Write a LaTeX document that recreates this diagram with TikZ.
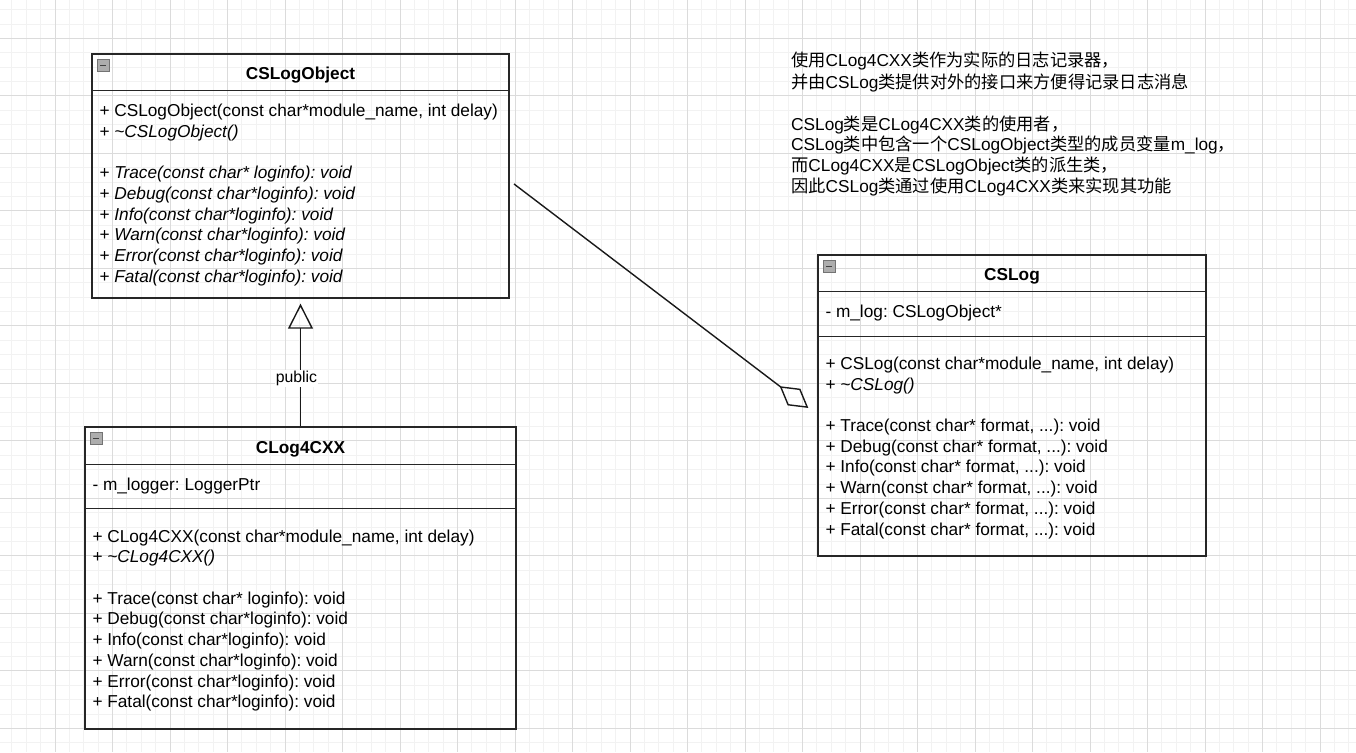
\documentclass[tikz,border=0pt]{standalone}
\usepackage{fontspec}
\setmainfont{Liberation Sans}
\newfontfamily\cjkfont{Noto Sans CJK SC}
\usetikzlibrary{positioning, arrows.meta}
\frenchspacing

\newcommand{\zh}[1]{{\cjkfont #1}}
\newcommand{\memberfont}{\fontsize{17.25}{20.7}\selectfont}

\tikzset{
  classbox/.style={draw=black!85, line width=1.4pt, inner sep=0pt},
  sepline/.style={draw=black!85, line width=1.4pt},
  classname/.style={anchor=base, inner sep=0pt, font=\memberfont\bfseries},
  members/.style={anchor=north west, align=left, inner sep=0pt, font=\memberfont},
  iconbox/.style={fill=black!32, draw=black!55, line width=0.8pt},
  iconbar/.style={draw=black!75, line width=1.6pt},
  gridminor/.style={draw=black!5, line width=0.8pt},
  gridmajor/.style={draw=black!14, line width=0.8pt},
  inherit/.style={draw=black!90, line width=1.4pt, shorten >=5pt,
    -{Triangle[open, length=25pt, width=25pt]}},
  aggr/.style={draw=black!90, line width=1.4pt, shorten <=5.4pt, shorten >=11.3pt,
    -{Diamond[open, length=36pt, width=21pt]}},
  edgelabel/.style={fill=white, inner sep=1pt, font=\fontsize{15.8}{19}\selectfont},
}

\begin{document}
\begin{tikzpicture}[x=1pt, y=-1pt, line cap=butt]
  \useasboundingbox (0,0) rectangle (1356,752);
  \fill[white] (0,0) rectangle (1356,752);
  % background grid
  \foreach \n in {-3,...,90} \draw[gridminor] ({55+14.375*\n},0) -- ++(0,752);
  \foreach \n in {-2,...,49} \draw[gridminor] (0,{38.3+14.375*\n}) -- ++(1356,0);
  \foreach \k in {0,...,22} \draw[gridmajor] ({55+57.5*\k},0) -- ++(0,752);
  \foreach \k in {0,...,12} \draw[gridmajor] (0,{38.3+57.5*\k}) -- ++(1356,0);

  % classes
  \node[classbox, minimum width=417pt, minimum height=244pt] (cslogobject) at (300.5,176) {};
  \node[classbox, minimum width=431pt, minimum height=302pt] (clog4cxx) at (300.5,578) {};
  \node[classbox, minimum width=388pt, minimum height=301pt] (cslog) at (1012,405.5) {};

  \draw[sepline] ([yshift=-37pt]cslogobject.north west) -- ([yshift=-37pt]cslogobject.north east);
  \draw[sepline] ([yshift=-38pt]clog4cxx.north west) -- ([yshift=-38pt]clog4cxx.north east);
  \draw[sepline] ([yshift=-82pt]clog4cxx.north west) -- ([yshift=-82pt]clog4cxx.north east);
  \draw[sepline] ([yshift=-37pt]cslog.north west) -- ([yshift=-37pt]cslog.north east);
  \draw[sepline] ([yshift=-82pt]cslog.north west) -- ([yshift=-82pt]cslog.north east);

  \foreach \b in {cslogobject, clog4cxx, cslog} {
    \draw[iconbox] ([xshift=6pt, yshift=-6pt]\b.north west) rectangle ++(12,12);
    \draw[iconbar] ([xshift=9pt, yshift=-12pt]\b.north west) -- ++(6,0);
  }

  \node[classname] (objtitle) at ([yshift=-26.5pt]cslogobject.north) {CSLogObject};
  \node[classname] (cxxtitle) at ([yshift=-27pt]clog4cxx.north) {CLog4CXX};
  \node[classname] (logtitle) at ([yshift=-26.5pt]cslog.north) {CSLog};

  \node[members] (objops) at ([xshift=8pt, yshift=-48.8pt]cslogobject.north west)
    {\strut + CSLogObject(const char*module\_name, int delay)\\
     + \textit{\textasciitilde CSLogObject()}\\[20.7pt]
     + \textit{Trace(const char* loginfo): void}\\
     + \textit{Debug(const char*loginfo): void}\\
     + \textit{Info(const char*loginfo): void}\\
     + \textit{Warn(const char*loginfo): void}\\
     + \textit{Error(const char*loginfo): void}\\
     + \textit{Fatal(const char*loginfo): void}};

  \node[members] (cxxattr) at ([xshift=8pt, yshift=-49.2pt]clog4cxx.north west)
    {\strut - m\_logger: LoggerPtr};
  \node[members] (cxxops) at ([xshift=8pt, yshift=-101.2pt]clog4cxx.north west)
    {\strut + CLog4CXX(const char*module\_name, int delay)\\
     + \textit{\textasciitilde CLog4CXX()}\\[20.7pt]
     + Trace(const char* loginfo): void\\
     + Debug(const char*loginfo): void\\
     + Info(const char*loginfo): void\\
     + Warn(const char*loginfo): void\\
     + Error(const char*loginfo): void\\
     + Fatal(const char*loginfo): void};

  \node[members] (logattr) at ([xshift=8pt, yshift=-48.2pt]cslog.north west)
    {\strut - m\_log: CSLogObject*};
  \node[members] (logops) at ([xshift=8pt, yshift=-100.5pt]cslog.north west)
    {\strut + CSLog(const char*module\_name, int delay)\\
     + \textit{\textasciitilde CSLog()}\\[20.7pt]
     + Trace(const char* format, ...): void\\
     + Debug(const char* format, ...): void\\
     + Info(const char* format, ...): void\\
     + Warn(const char* format, ...): void\\
     + Error(const char* format, ...): void\\
     + Fatal(const char* format, ...): void};

  % relations
  \draw[inherit] (clog4cxx.north) -- node[edgelabel, pos=0.375, xshift=-4pt] (publiclbl) {public} (cslogobject.south);
  \draw[aggr] ([yshift=-4.7pt]cslogobject.east) -- ([yshift=-9.3pt]cslog.west);

  % note
  \node[members] (remark) at (791,52)
    {\strut\zh{使用}CLog4CXX\zh{类作为实际的日志记录器，}\\
     \zh{并由}CSLog\zh{类提供对外的接口来方便得记录日志消息}\\[20.7pt]
     CSLog\zh{类是}CLog4CXX\zh{类的使用者，}\\
     CSLog\zh{类中包含一个}CSLogObject\zh{类型的成员变量}m\_log\zh{，}\\
     \zh{而}CLog4CXX\zh{是}CSLogObject\zh{类的派生类，}\\
     \zh{因此}CSLog\zh{类通过使用}CLog4CXX\zh{类来实现其功能}};
\end{tikzpicture}
\end{document}
